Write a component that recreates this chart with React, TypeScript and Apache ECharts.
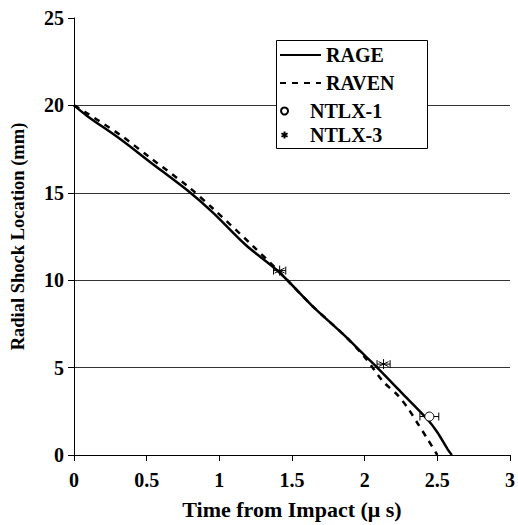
import React, { useEffect, useRef } from "react";
import * as echarts from "echarts";

const xTicks = [0, 0.5, 1, 1.5, 2, 2.5, 3];
const yTicks = [0, 5, 10, 15, 20, 25];

const rageT = [0, 0.09, 0.32, 0.525, 0.786, 0.956, 1.184, 1.41, 1.637, 1.866, 2.0, 2.09, 2.25, 2.43, 2.5, 2.57, 2.6];
const rageR = [20, 19.4, 18.06, 16.75, 15.1, 13.87, 12.0, 10.47, 8.55, 6.8, 5.7, 4.97, 3.6, 2.06, 1.3, 0.34, 0];

const ravenT = [0, 0.09, 0.32, 0.525, 0.786, 0.956, 1.218, 1.41, 1.637, 1.866, 2.0, 2.127, 2.23, 2.3, 2.365, 2.43, 2.5];
const ravenR = [20, 19.55, 18.3, 17.0, 15.35, 14.1, 12.06, 10.5, 8.55, 6.8, 5.6, 4.2, 3.4, 2.65, 1.8, 0.95, 0];

// [time, location, time error]
const ntlx1 = [[2.445, 2.2, 0.065]];
const ntlx3 = [[1.415, 10.55, 0.042], [2.13, 5.2, 0.045]];

const lineNames = ["RAGE", "RAVEN"];
const pointNames = ["NTLX-1", "NTLX-3"];

const FONT = "Liberation Serif";
const STAR = "path://M5,0L5,10M0.67,2.5L9.33,7.5M0.67,7.5L9.33,2.5";

export default function App() {
  const ref = useRef<HTMLDivElement>(null);
  useEffect(() => {
    if (!ref.current) return;
    const chart = echarts.init(ref.current, null, { renderer: "svg" });
    const zip = (a: number[], b: number[]) => a.map((v, i) => [v, b[i]]);
    const errData = (arr: number[][]) => arr.map((d) => [d[0], d[1], d[0] - d[2], d[0] + d[2]]);
    const errSeries = (name: string, arr: number[][]) => ({
      type: "custom",
      name,
      data: errData(arr),
      z: 3,
      silent: true,
      renderItem: (params: any, api: any) => {
        const y = api.value(1);
        const lo = api.coord([api.value(2), y]);
        const hi = api.coord([api.value(3), y]);
        const h = 4;
        const st = { stroke: "#000", lineWidth: 1 };
        return {
          type: "group",
          children: [
            { type: "line", shape: { x1: lo[0], y1: lo[1], x2: hi[0], y2: hi[1] }, style: st },
            { type: "line", shape: { x1: lo[0], y1: lo[1] - h, x2: lo[0], y2: lo[1] + h }, style: st },
            { type: "line", shape: { x1: hi[0], y1: hi[1] - h, x2: hi[0], y2: hi[1] + h }, style: st },
          ],
        };
      },
    });
    const legendText = { fontFamily: FONT, fontWeight: "bold", fontSize: 20, color: "#000" };
    chart.setOption({
      animation: false,
      backgroundColor: "#fff",
      grid: { left: 73, right: 5, top: 18, bottom: 69 },
      graphic: [
        {
          type: "rect",
          z: 5,
          shape: { x: 276.5, y: 40.5, width: 151, height: 108 },
          style: { fill: "#fff", stroke: "#000", lineWidth: 1 },
        },
      ],
      xAxis: {
        type: "value",
        min: xTicks[0],
        max: xTicks[xTicks.length - 1],
        interval: 0.5,
        name: "Time from Impact (\u03bc s)",
        nameLocation: "middle",
        nameGap: 43,
        nameTextStyle: { fontFamily: FONT, fontWeight: "bold", fontSize: 22, color: "#000" },
        axisLine: { show: true, lineStyle: { color: "#000", width: 1 } },
        axisTick: { show: true, length: 6, lineStyle: { color: "#000" } },
        axisLabel: { margin: 15, fontFamily: FONT, fontWeight: "bold", fontSize: 20, color: "#000" },
        splitLine: { show: false },
      },
      yAxis: {
        type: "value",
        min: yTicks[0],
        max: yTicks[yTicks.length - 1],
        interval: 5,
        name: "Radial Shock Location (mm)",
        nameLocation: "middle",
        nameRotate: 90,
        nameGap: 47,
        nameTextStyle: { fontFamily: FONT, fontWeight: "bold", fontSize: 18.5, color: "#000" },
        axisLine: { show: true, lineStyle: { color: "#000", width: 1 } },
        axisTick: { show: true, length: 6, lineStyle: { color: "#000" } },
        axisLabel: { margin: 10, fontFamily: FONT, fontWeight: "bold", fontSize: 20, color: "#000" },
        splitLine: { show: true, showMinLine: false, showMaxLine: false, lineStyle: { color: "#333", width: 1 } },
      },
      legend: [
        {
          data: lineNames.map((n) => ({ name: n, itemStyle: { color: "transparent", borderColor: "transparent", borderWidth: 0 } })),
          orient: "vertical",
          left: 276,
          top: 45,
          padding: [0, 0, 0, 3],
          itemWidth: 41,
          itemHeight: 14,
          itemGap: 8,
          textStyle: legendText,
          selectedMode: false,
          z: 10,
        },
        {
          data: pointNames,
          orient: "vertical",
          left: 276,
          top: 101,
          padding: [0, 0, 0, 3],
          itemWidth: 41,
          itemHeight: 7,
          itemGap: 4,
          textStyle: legendText,
          selectedMode: false,
          z: 10,
        },
      ],
      series: [
        {
          name: lineNames[0],
          type: "line",
          data: zip(rageT, rageR),
          smooth: 0.3,
          symbol: "none",
          lineStyle: { color: "#000", width: 2.5 },
          itemStyle: { color: "#000" },
          z: 2,
        },
        {
          name: lineNames[1],
          type: "line",
          data: zip(ravenT, ravenR),
          smooth: 0.3,
          symbol: "none",
          lineStyle: { color: "#000", width: 2.5, type: [6, 6] },
          itemStyle: { color: "#000" },
          z: 2,
        },
        {
          name: pointNames[0],
          type: "scatter",
          data: ntlx1.map((d) => [d[0], d[1]]),
          symbol: "circle",
          symbolSize: 9,
          itemStyle: { color: "#fff", borderColor: "#000", borderWidth: 1, opacity: 1 },
          z: 4,
        },
        {
          name: pointNames[1],
          type: "scatter",
          data: ntlx3.map((d) => [d[0], d[1]]),
          symbol: STAR,
          symbolSize: 10,
          itemStyle: { color: "none", borderColor: "#000", borderWidth: 1, opacity: 1 },
          z: 4,
        },
        errSeries("err1", ntlx1),
        errSeries("err3", ntlx3),
      ],
    });
    return () => chart.dispose();
  }, []);
  return <div ref={ref} style={{ position: "fixed", left: 0, top: 0, width: 518, height: 525 }} />;
}
